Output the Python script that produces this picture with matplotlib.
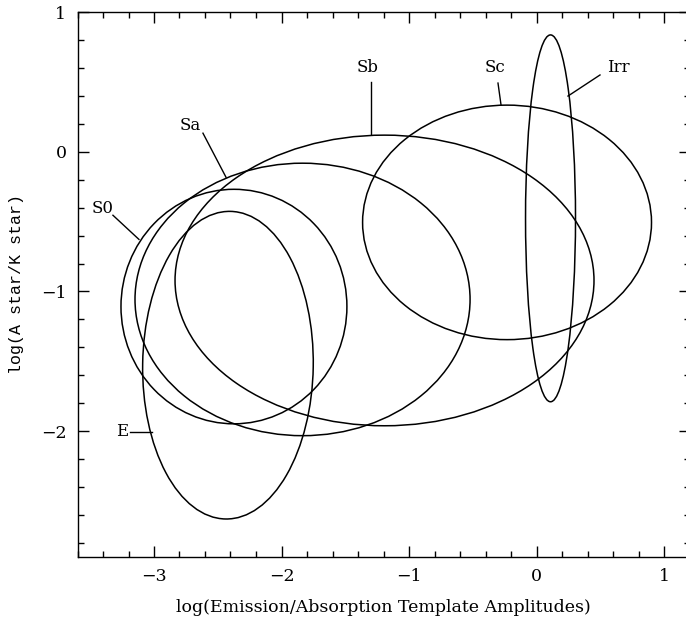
import matplotlib
matplotlib.use("Agg")
import matplotlib.pyplot as plt
from matplotlib.patches import Ellipse
from matplotlib.ticker import MultipleLocator

# Galaxy types and their ellipse parameters (data units)
types = ["E", "S0", "Sa", "Sb", "Sc", "Irr"]
center_x = [-2.420, -2.373, -1.835, -1.192, -0.231, 0.110]
center_y = [-1.528, -1.108, -1.057, -0.921, -0.505, -0.476]
semi_x = [0.669, 0.886, 1.314, 1.643, 1.133, 0.196]
semi_y = [1.102, 0.840, 0.976, 1.041, 0.840, 1.314]
tilt_deg = [-1.0, 0.0, 0.0, 0.0, 0.0, 0.0]

# Label text positions and leader lines (data units)
label_x = [-3.251, -3.400, -2.718, -1.322, -0.325, 0.639]
label_y = [-2.006, -0.404, 0.191, 0.601, 0.601, 0.601]
leader_x0 = [-3.188, -3.322, -2.616, -1.298, -0.302, 0.498]
leader_y0 = [-2.006, -0.454, 0.134, 0.500, 0.493, 0.551]
leader_x1 = [-3.016, -3.118, -2.435, -1.298, -0.278, 0.247]
leader_y1 = [-2.006, -0.627, -0.182, 0.127, 0.335, 0.400]

serif = ["DejaVu Serif"]
mono = ["Liberation Mono", "DejaVu Sans Mono"]

fig = plt.figure(figsize=(6.86, 6.19), dpi=100)
ax = fig.add_axes([77.5 / 686, 1 - 556.7 / 619, 612 / 686, (556.7 - 12.3) / 619])

for cx, cy, a, b, ang in zip(center_x, center_y, semi_x, semi_y, tilt_deg):
    ax.add_patch(Ellipse((cx, cy), 2 * a, 2 * b, angle=ang, fill=False,
                         edgecolor="black", linewidth=1.1))

for name, tx, ty, x0, y0, x1, y1 in zip(types, label_x, label_y, leader_x0,
                                       leader_y0, leader_x1, leader_y1):
    ax.plot([x0, x1], [y0, y1], color="black", linewidth=1.0)
    ax.text(tx, ty, name, ha="center", va="center", fontsize=12,
            family=serif)

ax.set_xlim(-3.6, 1.2)
ax.set_ylim(-2.9, 1.0)
ax.xaxis.set_major_locator(MultipleLocator(1))
ax.xaxis.set_minor_locator(MultipleLocator(0.2))
ax.yaxis.set_major_locator(MultipleLocator(1))
ax.yaxis.set_minor_locator(MultipleLocator(0.2))
ax.tick_params(which="both", direction="in", top=True, right=True,
               width=1.0)
ax.tick_params(which="major", length=8, labelsize=12.5, pad=8)
ax.tick_params(which="minor", length=4)
for lab in ax.get_xticklabels() + ax.get_yticklabels():
    lab.set_family(serif)
for sp in ax.spines.values():
    sp.set_linewidth(1.0)
ax.spines["right"].set_visible(False)

ax.set_xlabel("log(Emission/Absorption Template Amplitudes)", fontsize=12.5,
              family=serif, labelpad=10)
ax.set_ylabel("log(A star/K star)", fontsize=12, family=mono, labelpad=12)

fig.savefig("out.png", dpi=100)
